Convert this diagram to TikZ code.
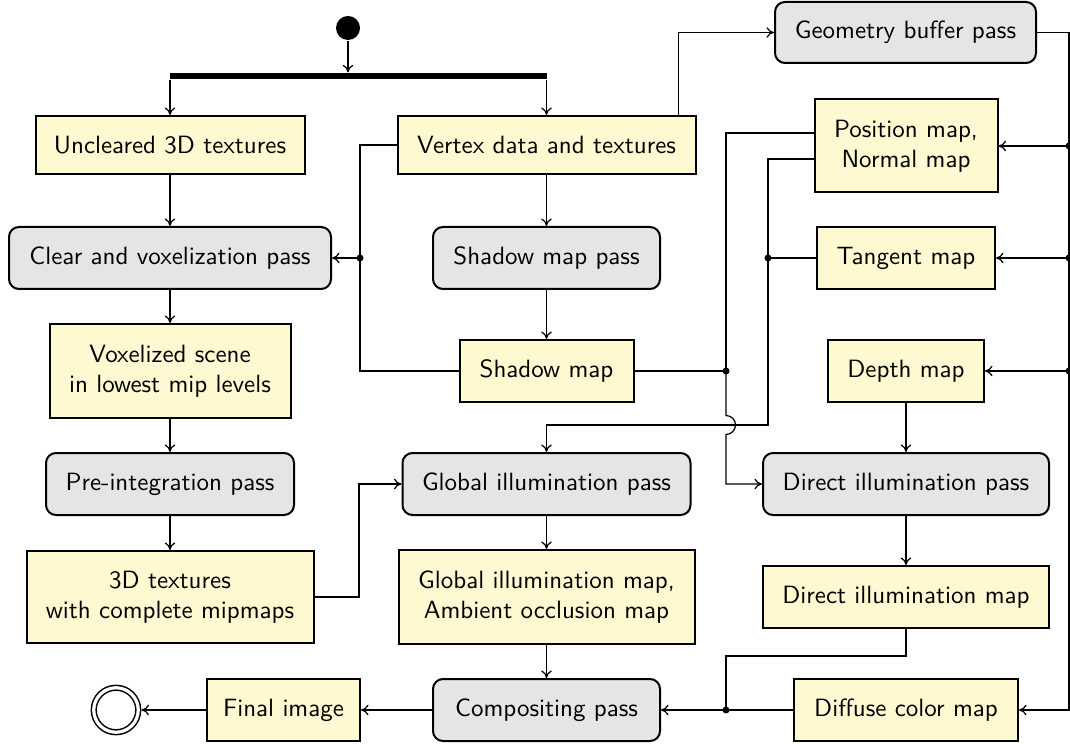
\documentclass[tikz,border=0pt]{standalone}
\usetikzlibrary{arrows.meta}
\definecolor{datafill}{RGB}{255,249,210}
\definecolor{passfill}{RGB}{229,229,229}
\begin{document}
\begin{tikzpicture}[x=0.4pt,y=-0.4pt,
  every node/.style={font=\sffamily},
  line width=0.5pt,
  sz/.style 2 args={minimum width=#1*0.4pt,minimum height=#2*0.4pt},
  data/.style={draw,line width=0.8pt,fill=datafill,inner sep=0pt,align=center},
  pass/.style={draw,line width=0.8pt,fill=passfill,rounded corners=4pt,inner sep=0pt,align=center},
  flow/.style={-{To[length=3pt,width=4.2pt]}},
  junction/.style={fill,inner sep=0pt,circle,minimum size=2.8pt}]
\useasboundingbox (0,0) rectangle (1070,744);

% start, fork bar and end
\node[circle,fill=black,inner sep=0pt,minimum size=9.6pt] (start) at (348,28) {};
\node[fill=black,inner sep=0pt,sz={377}{6}] (fork) at (358.5,76) {};
\node[circle,draw,line width=0.6pt,double,double distance=1.3pt,inner sep=0pt,
      minimum size=17.8pt,outer sep=1.3pt] (end) at (116,710) {};

% left column
\node[data,sz={269}{58}] (unc) at (170,145) {Uncleared 3D textures};
\node[pass,sz={322}{62}] (clear) at (170,258) {Clear and voxelization pass};
\node[data,sz={241}{94}] (vox) at (170,371) {Voxelized scene\\in lowest mip levels};
\node[pass,sz={248}{62}] (pre) at (170,484) {Pre-integration pass};
\node[data,sz={287}{92}] (tex) at (170,597) {3D textures\\with complete mipmaps};
\node[data,sz={153}{62}] (fin) at (283.5,710) {Final image};

% middle column
\node[data,sz={298}{58}] (vert) at (546.5,145) {Vertex data and textures};
\node[pass,sz={227}{62}] (smp) at (546.5,258) {Shadow map pass};
\node[data,sz={174}{62}] (sm) at (546.5,371) {Shadow map};
\node[pass,sz={288}{62}] (gip) at (546.5,484) {Global illumination pass};
\node[data,sz={296}{94}] (gim) at (546.5,597) {Global illumination map,\\Ambient occlusion map};
\node[pass,sz={227}{62}] (comp) at (546.5,710) {Compositing pass};

% right column
\node[pass,sz={261}{61}] (geo) at (905.5,32.5) {Geometry buffer pass};
\node[data,sz={183}{93}] (pos) at (906,146) {Position map,\\Normal map};
\node[data,sz={178}{62}] (tan) at (906,258) {Tangent map};
\node[data,sz={156}{62}] (depth) at (906,371) {Depth map};
\node[pass,sz={286}{62}] (dip) at (906,484) {Direct illumination pass};
\node[data,sz={286}{62}] (dim) at (906,597) {Direct illumination map};
\node[data,sz={224}{62}] (dif) at (906,710) {Diffuse color map};

% junction points
\coordinate (j1) at (360,258);
\coordinate (j2) at (726,371);
\coordinate (j3) at (768,258);
\coordinate (j4) at (768,425);
\coordinate (j5) at (726,710);
\coordinate (t1) at (359,484);
\coordinate (rb) at (1069,710);
\coordinate (vt) at ([xshift=-7.2pt]vert.north east);
\coordinate (posU) at ([yshift=5.2pt]pos.west);
\coordinate (posL) at ([yshift=-5.2pt]pos.west);

% fork
\draw[flow] (start) -- (start |- fork.north);
\draw[flow] (unc |- fork.south) -- (unc.north);
\draw[flow] (vert |- fork.south) -- (vert.north);

% straight chains
\draw[flow] (unc) -- (clear);
\draw[flow] (clear) -- (vox);
\draw[flow] (vox) -- (pre);
\draw[flow] (pre) -- (tex);
\draw[flow] (vert) -- (smp);
\draw[flow] (smp) -- (sm);
\draw[flow] (gip) -- (gim);
\draw[flow] (gim) -- (comp);
\draw[flow] (depth) -- (dip);
\draw[flow] (dip) -- (dim);
\draw[flow] (comp) -- (fin);
\draw[flow] (fin) -- (end);

% vertex data and shadow map into voxelization
\draw (vert.west) -| (j1);
\draw (sm.west) -| (j1);
\draw[flow] (j1) -- (clear.east);

% geometry buffer
\draw[flow] (vt) |- (geo.west);
\draw[flow] (geo.east) -| (rb) -- (dif.east);
\draw[flow] (pos.east -| rb) -- (pos.east);
\draw[flow] (tan.east -| rb) -- (tan.east);
\draw[flow] (depth.east -| rb) -- (depth.east);

% inputs of the direct illumination pass
\draw (sm.east) -- (j2);
\draw (posU) -| (j2);
\draw[flow] (j2) -- (726,415.5) arc[start angle=90,end angle=-90,radius=3.8pt] |- (dip.west);

% inputs of the global illumination pass
\draw (posL) -| (j3);
\draw (tan.west) -- (j3);
\draw[flow] (j3) -- (j4) -| (gip.north);
\draw[flow] (tex.east) -| (t1) -- (gip.west);

% inputs of the compositing pass
\draw (dim.south) -- ++(0,27) -| (j5);
\draw (dif.west) -- (j5);
\draw[flow] (j5) -- (comp.east);

% junction dots
\foreach \p in {j1,j2,j3,j5} \node[junction] at (\p) {};
\node[junction] at (pos.east -| rb) {};
\node[junction] at (tan.east -| rb) {};
\node[junction] at (depth.east -| rb) {};
\end{tikzpicture}
\end{document}
